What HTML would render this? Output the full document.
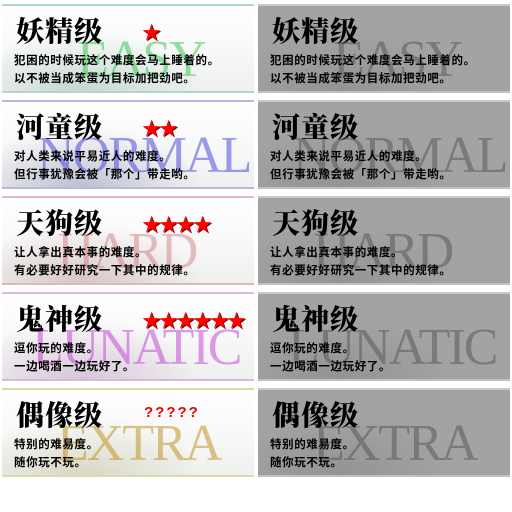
<!DOCTYPE html>
<html><head><meta charset="utf-8"><style>
body{margin:0;width:512px;height:512px;background:#fff;position:relative;overflow:hidden;font-family:"Liberation Sans","Noto Sans CJK SC",sans-serif}
.p{position:absolute;width:252px;height:89px;overflow:hidden}
.l{background:linear-gradient(180deg,#fff 0%,#fafafa 40%,#eef0ee 100%);border-top:2px solid var(--c);border-bottom:2px solid var(--c);box-sizing:border-box}
.r{background:#a3a3a3;border-top:2px solid #c8c8c8;border-bottom:2px solid #c0c0c0;box-sizing:border-box}
.leaf{position:absolute;left:0;bottom:0;width:200px;height:60px;border-radius:50% 60% 0 0;opacity:.35}
.en{position:absolute;font-family:"Liberation Serif",serif;font-size:52px;letter-spacing:-2px;white-space:nowrap}
.t{position:absolute;left:14px;top:4px;font-family:"Noto Serif CJK SC","Noto Sans CJK SC",sans-serif;font-weight:900;font-size:28px;color:#000;letter-spacing:1px}
.d{position:absolute;left:12px;font-family:"Noto Sans CJK SC",sans-serif;font-size:11.5px;color:#000;white-space:nowrap;font-weight:bold;letter-spacing:0.6px}
.st{position:absolute;top:12px;color:#f00;font-size:19px;letter-spacing:-2px;text-shadow:1px 1px 0 #600}
.q{position:absolute;top:14px;color:#e00;font-size:15px;letter-spacing:2px;font-weight:bold}
</style></head><body>
<div id="root"></div>
<script>
const panels=[
 {t:'妖精级',en:'EASY',c:'#b0d8c8',ec:'rgba(60,200,80,.55)',lc:'#7a9',ex:75,d1:'犯困的时候玩这个难度会马上睡着的。',d2:'以不被当成笨蛋为目标加把劲吧。',s:'★',sx:140},
 {t:'河童级',en:'NORMAL',c:'#b8b8e0',ec:'rgba(60,60,220,.5)',lc:'#669',ex:35,d1:'对人类来说平易近人的难度。',d2:'但行事犹豫会被「那个」带走哟。',s:'★★',sx:140},
 {t:'天狗级',en:'HARD',c:'#e0b8b8',ec:'rgba(200,100,100,.4)',lc:'#a77',ex:55,d1:'让人拿出真本事的难度。',d2:'有必要好好研究一下其中的规律。',s:'★★★★',sx:140},
 {t:'鬼神级',en:'LUNATIC',c:'#d8b8e0',ec:'rgba(190,60,210,.5)',lc:'#a7a',ex:30,d1:'逗你玩的难度。',d2:'一边喝酒一边玩好了。',s:'★★★★★★',sx:140},
 {t:'偶像级',en:'EXTRA',c:'#e0d8a8',ec:'rgba(190,150,40,.55)',lc:'#aa7',ex:55,d1:'特别的难易度。',d2:'随你玩不玩。',q:true,sx:142}
];
const root=document.getElementById('root');
panels.forEach((p,i)=>{
 [0,1].forEach(side=>{
  const el=document.createElement('div');
  
  
  el.className='p '+(side?'r':'l');
  el.style.left=(side?258:2)+'px';
  el.style.top=(4+i*96)+'px';
  if(!side) el.style.setProperty('--c',p.c);
  let h='<div class="leaf" style="background:radial-gradient(ellipse at 40% 100%,'+(side?'#777':p.lc)+',transparent 70%)"></div>';
  h+='<div class="en" style="left:'+p.ex+'px;top:24px;color:'+(side?'rgba(90,90,90,.55)':p.ec)+'">'+p.en+'</div>';
  h+='<div class="t">'+p.t+'</div>';
  if(!side){
   if(p.q) h+='<div class="q" style="left:'+p.sx+'px">?????</div>';
   else h+='<div class="st" style="left:'+p.sx+'px">'+p.s+'</div>';
  }
  h+='<div class="d" style="top:46px">'+p.d1+'</div><div class="d" style="top:64px">'+p.d2+'</div>';
  el.innerHTML=h;
  root.appendChild(el);
 });
});
</script>
</body></html>
